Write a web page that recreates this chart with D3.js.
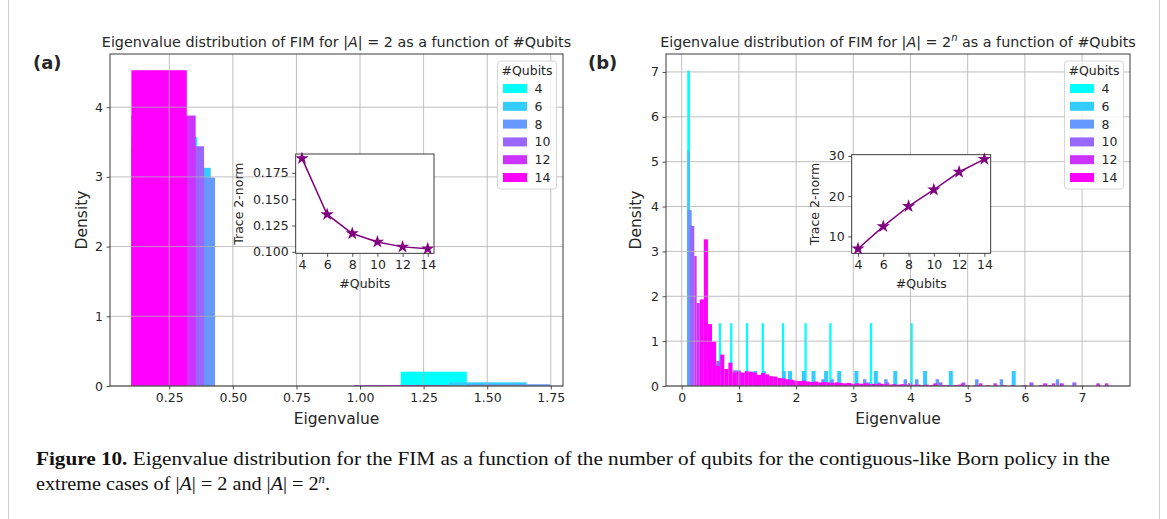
<!DOCTYPE html>
<html>
<head>
<meta charset="utf-8">
<script src="https://cdn.jsdelivr.net/npm/d3@7"></script>
<style>
  body { margin: 0; background: #fff; }
  svg text { font-family: "DejaVu Sans", sans-serif; fill: #262626; }
  .caption text { font-family: "Liberation Serif", serif; fill: #111; }
</style>
</head>
<body>
<svg id="fig" width="1167" height="519"></svg>
<script>
// ---- data ----
const qubits = [4, 6, 8, 10, 12, 14];
const qubitColors = ["#00ffff", "#33ccff", "#6699ff", "#9966ff", "#cc33ff", "#ff00ff"];

// panel (a) histograms, one list per #qubits: [left edge, right edge, density]
const histA4 = [[0.101, 0.360, 3.57], [1.160, 1.420, 0.205]];
const histA6 = [[0.101, 0.413, 3.13], [1.350, 1.655, 0.053]];
const histA8 = [[0.101, 0.430, 2.99], [1.420, 1.748, 0.025]];
const histA10 = [[0.101, 0.387, 3.44], [0.975, 1.260, 0.012]];
const histA12 = [[0.101, 0.354, 3.88], [0.980, 1.230, 0.012]];
const histA14 = [[0.101, 0.319, 4.53], [1.130, 1.350, 0.012]];

// panel (b) histograms, sparse series: [left edge, right edge, density]
const histB4 = [[0.098, 0.145, 7.03], [0.650, 0.689, 1.40], [0.847, 0.886, 1.40], [1.122, 1.162, 1.40],
  [1.398, 1.438, 1.40], [1.753, 1.792, 1.40], [2.147, 2.186, 1.40], [2.580, 2.620, 1.40],
  [3.290, 3.330, 1.40], [4.000, 4.040, 1.40]];
const histB6 = [[0.098, 0.145, 5.24], [0.960, 1.030, 0.35], [1.250, 1.320, 0.334], [1.400, 1.470, 0.334],
  [1.750, 1.820, 0.334], [1.860, 1.930, 0.334], [2.100, 2.170, 0.334], [2.270, 2.340, 0.334],
  [2.490, 2.560, 0.334], [2.720, 2.790, 0.334], [3.020, 3.090, 0.334], [3.360, 3.430, 0.334],
  [3.700, 3.770, 0.334], [4.220, 4.290, 0.334], [4.670, 4.740, 0.334], [5.770, 5.840, 0.334]];
const histB8 = [[0.098, 0.175, 3.92], [1.000, 1.060, 0.30], [1.500, 1.560, 0.17], [1.580, 1.640, 0.17],
  [2.440, 2.500, 0.15], [2.600, 2.660, 0.15], [3.170, 3.230, 0.15], [3.540, 3.600, 0.15],
  [3.880, 3.940, 0.15], [4.080, 4.140, 0.15], [4.440, 4.500, 0.15], [5.130, 5.190, 0.15],
  [5.560, 5.620, 0.15], [6.540, 6.600, 0.15]];
const histB10 = [[0.146, 0.221, 3.57], [0.605, 0.670, 0.56], [0.900, 0.960, 0.35], [3.230, 3.290, 0.08],
  [3.420, 3.480, 0.08], [3.570, 3.630, 0.08], [4.500, 4.560, 0.08], [4.900, 4.960, 0.08],
  [6.080, 6.150, 0.08], [6.830, 6.900, 0.08]];
const histB12 = [[0.221, 0.262, 2.90], [0.262, 0.316, 1.85], [3.960, 4.020, 0.06], [4.400, 4.460, 0.06],
  [4.880, 4.940, 0.06], [5.200, 5.260, 0.06], [5.450, 5.510, 0.06], [6.320, 6.390, 0.06],
  [6.470, 6.530, 0.06], [6.610, 6.680, 0.06], [7.250, 7.310, 0.06], [7.400, 7.460, 0.06]];
// 14 qubits: equal bins starting at binStart14, width binWidth14
const binStart14 = 0.316;
const binWidth14 = 0.0715;
const density14 = [1.93, 3.27, 1.38, 0.99, 0.45, 0.70, 0.38, 0.52, 0.30, 0.33,
  0.30, 0.33, 0.32, 0.30, 0.25, 0.29, 0.26, 0.22, 0.21, 0.18,
  0.17, 0.15, 0.14, 0.12, 0.11, 0.12, 0.10, 0.09, 0.10, 0.08,
  0.09, 0.08, 0.07, 0.08, 0.07, 0.06, 0.07, 0.05, 0.06, 0.05,
  0.06, 0.04, 0.05, 0.04, 0.05, 0.04, 0.03, 0.04, 0.03, 0.04,
  0.03, 0.02, 0.03, 0.03, 0.02, 0.03, 0.02, 0.03, 0, 0.02,
  0.02, 0, 0.02, 0.03, 0, 0.02, 0, 0.02, 0.02, 0,
  0.02, 0, 0.02, 0, 0.02, 0, 0.02, 0, 0, 0.02,
  0, 0, 0, 0.02, 0, 0.02, 0, 0, 0.02, 0,
  0, 0, 0, 0, 0, 0, 0, 0.02, 0, 0.02];

// insets: trace 2-norm vs #qubits
const normA = [0.1887, 0.1355, 0.1174, 0.1094, 0.1047, 0.1029];
const normB = [6.95, 12.5, 17.5, 21.6, 26.0, 29.2];

// tick labels
const ticksAx = [0.25, 0.50, 0.75, 1.00, 1.25, 1.50, 1.75];
const ticksAy = [0, 1, 2, 3, 4];
const ticksBx = [0, 1, 2, 3, 4, 5, 6, 7];
const ticksBy = [0, 1, 2, 3, 4, 5, 6, 7];
const ticksInsetX = [4, 6, 8, 10, 12, 14];
const ticksInsetAy = [0.100, 0.125, 0.150, 0.175];
const ticksInsetBy = [10, 20, 30];

const histB14 = density14.map((d, i) => [binStart14 + i * binWidth14, binStart14 + (i + 1) * binWidth14, d]).filter(d => d[2] > 0);
const histA = [histA4, histA6, histA8, histA10, histA12, histA14];
const histB = [histB4, histB6, histB8, histB10, histB12, histB14];

// ---- drawing ----
const svg = d3.select("#fig");

// outer frame of the figure box
svg.append("rect").attr("x", 8.5).attr("y", -5).attr("width", 1151).attr("height", 540)
  .attr("fill", "none").attr("stroke", "#d0d0d0").attr("stroke-width", 1);

function axesFrame(g, x, y, xt, yt, fx, fy, fs) {
  const xa = g.append("g").attr("transform", "translate(0," + y.range()[0] + ")")
    .call(d3.axisBottom(x).tickValues(xt).tickFormat(fx).tickSize(3.5).tickPadding(3.5));
  const ya = g.append("g").attr("transform", "translate(" + x.range()[0] + ",0)")
    .call(d3.axisLeft(y).tickValues(yt).tickFormat(fy).tickSize(3.5).tickPadding(3.5));
  [xa, ya].forEach(a => {
    a.attr("font-size", fs).attr("font-family", "DejaVu Sans");
    a.select(".domain").remove();
    a.selectAll("line").attr("stroke", "#262626").attr("stroke-width", 0.8);
    a.selectAll("text").style("font-size", fs + "px").attr("fill", "#262626");
  });
  g.append("rect").attr("x", x.range()[0]).attr("y", y.range()[1])
    .attr("width", x.range()[1] - x.range()[0]).attr("height", y.range()[0] - y.range()[1])
    .attr("fill", "none").attr("stroke", "#262626").attr("stroke-width", 0.9);
}

function panel(cfg) {
  const g = svg.append("g");
  const x = d3.scaleLinear().domain(cfg.xd).range([cfg.left, cfg.right]);
  const y = d3.scaleLinear().domain(cfg.yd).range([cfg.bottom, cfg.top]);

  cfg.hist.forEach((bars, i) => {
    g.append("g").selectAll("rect").data(bars).join("rect")
      .attr("x", d => x(d[0])).attr("width", d => Math.max(0.8, x(d[1]) - x(d[0])))
      .attr("y", d => y(d[2])).attr("height", d => y(0) - y(d[2]))
      .attr("fill", qubitColors[i]);
  });

  // grid over the bars
  const grid = g.append("g").attr("stroke", "#b0b0b0").attr("stroke-width", 0.8);
  grid.selectAll(".gx").data(cfg.xt).join("line")
    .attr("x1", d => x(d)).attr("x2", d => x(d)).attr("y1", cfg.top).attr("y2", cfg.bottom);
  grid.selectAll(".gy").data(cfg.yt).join("line")
    .attr("y1", d => y(d)).attr("y2", d => y(d)).attr("x1", cfg.left).attr("x2", cfg.right);

  axesFrame(g, x, y, cfg.xt, cfg.yt, cfg.fx, d3.format("d"), 12.5);

  // titles and labels
  const t = g.append("text").attr("x", (cfg.left + cfg.right) / 2).attr("y", 47)
    .attr("text-anchor", "middle").attr("font-size", 14.3);
  t.append("tspan").text("Eigenvalue distribution of FIM for |");
  t.append("tspan").attr("font-style", "italic").text("A");
  t.append("tspan").text("| = 2");
  if (cfg.pow) {
    t.append("tspan").attr("font-style", "italic").attr("font-size", 10).attr("dy", -6).text("n");
    t.append("tspan").attr("dy", 6).text(" as a function of #Qubits");
  } else {
    t.append("tspan").text(" as a function of #Qubits");
  }
  g.append("text").attr("x", cfg.tagX).attr("y", 69).attr("font-size", 18)
    .attr("font-weight", "bold").attr("fill", "#000").text(cfg.tag);
  g.append("text").attr("transform", "translate(" + cfg.ylabX + "," + ((cfg.top + cfg.bottom) / 2) + ") rotate(-90)")
    .attr("text-anchor", "middle").attr("font-size", 15.5).text("Density");
  g.append("text").attr("x", (cfg.left + cfg.right) / 2).attr("y", 424)
    .attr("text-anchor", "middle").attr("font-size", 15.5).text("Eigenvalue");

  // legend
  const lw = 59, lx = cfg.right - 6.5 - lw, ly = 61;
  const lg = g.append("g");
  lg.append("rect").attr("x", lx).attr("y", ly).attr("width", lw).attr("height", 128).attr("rx", 3)
    .attr("fill", "#fff").attr("fill-opacity", 0.8).attr("stroke", "#cccccc").attr("stroke-width", 0.8);
  lg.append("text").attr("x", lx + lw / 2).attr("y", ly + 14).attr("text-anchor", "middle")
    .attr("font-size", 12.5).text("#Qubits");
  qubits.forEach((q, i) => {
    const cy = ly + 27.5 + i * 17.8;
    lg.append("rect").attr("x", lx + 5.5).attr("y", cy - 4.5).attr("width", 24).attr("height", 9)
      .attr("fill", qubitColors[i]);
    lg.append("text").attr("x", lx + 37).attr("y", cy + 4.5).attr("font-size", 12.5).text(q);
  });

  // inset
  const ins = cfg.inset;
  const ig = g.append("g");
  const ix = d3.scaleLinear().domain([3.5, 14.5]).range([ins.left, ins.right]);
  const iy = d3.scaleLinear().domain(ins.yd).range([ins.bottom, ins.top]);
  ig.append("rect").attr("x", ins.left).attr("y", ins.top).attr("width", ins.right - ins.left)
    .attr("height", ins.bottom - ins.top).attr("fill", "#fff");
  axesFrame(ig, ix, iy, ticksInsetX, ins.yt, d3.format("d"), ins.fy, 12.5);
  const line = d3.line().x((d, i) => ix(qubits[i])).y(d => iy(d));
  ig.append("path").datum(ins.values).attr("d", line).attr("fill", "none")
    .attr("stroke", "#800080").attr("stroke-width", 1.5);
  ig.selectAll(".star").data(ins.values).join("path")
    .attr("transform", (d, i) => "translate(" + ix(qubits[i]) + "," + iy(d) + ")")
    .attr("d", d3.symbol(d3.symbolStar, 55)).attr("fill", "#800080");
  ig.append("text").attr("x", (ins.left + ins.right) / 2).attr("y", 288).attr("text-anchor", "middle")
    .attr("font-size", 12.5).text("#Qubits");
  ig.append("text").attr("transform", "translate(" + ins.labX + "," + ((ins.top + ins.bottom) / 2) + ") rotate(-90)")
    .attr("text-anchor", "middle").attr("font-size", 12.5).text("Trace 2-norm");
}

panel({
  left: 110, right: 563, top: 54, bottom: 386,
  xd: [0.017, 1.798], yd: [0, 4.763], xt: ticksAx, yt: ticksAy, fx: d3.format(".2f"),
  hist: histA, tag: "(a)", tagX: 33, ylabX: 87, pow: false,
  inset: { left: 295.7, right: 434, top: 154, bottom: 253.3, yd: [0.0986, 0.1929],
    yt: ticksInsetAy, fy: d3.format(".3f"), values: normA, labX: 243 }
});
panel({
  left: 666, right: 1130, top: 54, bottom: 386,
  xd: [-0.274, 7.838], yd: [0, 7.40], xt: ticksBx, yt: ticksBy, fx: d3.format("d"),
  hist: histB, tag: "(b)", tagX: 588, ylabX: 641, pow: true,
  inset: { left: 851.7, right: 990.7, top: 154.7, bottom: 253.3, yd: [5.82, 30.3],
    yt: ticksInsetBy, fy: d3.format("d"), values: normB, labX: 819 }
});

// caption
const cap = svg.append("g").attr("class", "caption");
const l1 = cap.append("text").attr("x", 36).attr("y", 465).attr("font-size", 19)
  .attr("textLength", 1074).attr("lengthAdjust", "spacingAndGlyphs");
l1.append("tspan").attr("font-weight", "bold").text("Figure 10. ");
l1.append("tspan").text("Eigenvalue distribution for the FIM as a function of the number of qubits for the contiguous-like Born policy in the");
const l2 = cap.append("text").attr("x", 36).attr("y", 490).attr("font-size", 19)
  .attr("textLength", 294).attr("lengthAdjust", "spacingAndGlyphs");
l2.append("tspan").text("extreme cases of |");
l2.append("tspan").attr("font-style", "italic").text("A");
l2.append("tspan").text("| = 2 and |");
l2.append("tspan").attr("font-style", "italic").text("A");
l2.append("tspan").text("| = 2");
l2.append("tspan").attr("font-style", "italic").attr("font-size", 12).attr("dy", -7).text("n");
l2.append("tspan").attr("dy", 7).text(".");
</script>
</body>
</html>
